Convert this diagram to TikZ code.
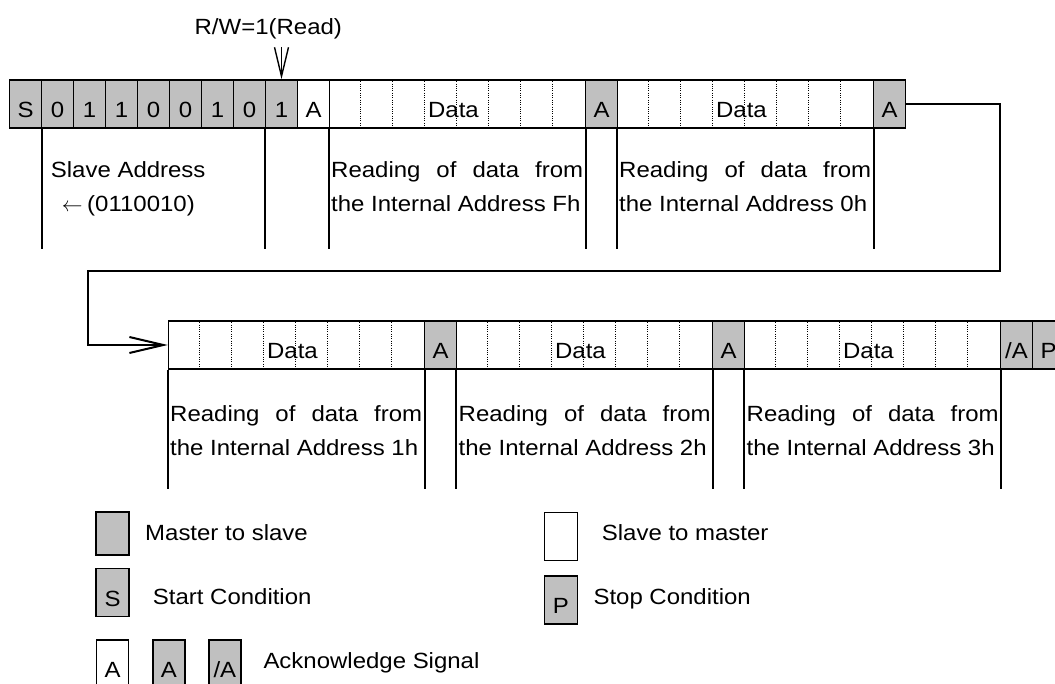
\documentclass[tikz,border=0pt]{standalone}
\usepackage{graphicx}
\usepackage{fontspec}
\setmainfont{Liberation Sans}[FakeStretch=1.09]
\usetikzlibrary{arrows.meta}
\definecolor{cellgray}{RGB}{192,192,192}
\begin{document}
\begin{tikzpicture}[x=1pt,y=-1pt,
  every node/.style={font=\fontsize{22}{26}\selectfont, inner sep=0pt},
  cell/.style={draw=black, line width=1.5pt, minimum height=48pt, minimum width=32pt, text height=27pt, text depth=0pt, anchor=center},
  gcell/.style={cell, fill=cellgray},
  wcell/.style={cell, fill=white},
  datacell/.style={wcell, minimum width=256pt},
  dotline/.style={line width=1.3pt, dash pattern=on 1pt off 1.3pt, shorten <=2pt, shorten >=2pt},
  vline/.style={line width=1.6pt},
  txt/.style={anchor=base west},
  conn/.style={line width=2pt, -{Straight Barb[length=34pt,width=16pt,line width=2pt]}},
  rwarrow/.style={line width=1.4pt, -{Straight Barb[length=29pt,width=14pt,line width=1.4pt]}},
]
\path[use as bounding box, clip] (0,0) rectangle (1055,684);

% ---- row 1 ----
\node[gcell] (S) at (25.5,104) {S};
\foreach \b [count=\i] in {0,1,1,0,0,1,0,1} {
  \node[gcell] (b\i) at (25.5+32*\i,104) {\b};
}
\node[wcell] (A1) at (313.5,104) {A};
\node[datacell] (D1) at (457.5,104) {\hspace*{-8pt}Data};
\node[gcell] (A2) at (601.5,104) {A};
\node[datacell] (D2) at (745.5,104) {\hspace*{-8pt}Data};
\node[gcell] (A3) at (889.5,104) {A};

% ---- row 2 ----
\node[datacell] (D3) at (296.5,345) {\hspace*{-8pt}Data};
\node[gcell] (A4) at (440.5,345) {A};
\node[datacell] (D4) at (584.5,345) {\hspace*{-8pt}Data};
\node[gcell] (A5) at (728.5,345) {A};
\node[datacell] (D5) at (872.5,345) {\hspace*{-8pt}Data};
\node[gcell] (NA) at (1016.5,345) {/A};
\node[gcell] (P) at (1048.5,345) {P};

% dotted bit separators
\foreach \d in {D1,D2,D3,D4,D5} {
  \foreach \k in {1,...,7} {
    \draw[dotline] ([xshift=\k*32pt]\d.north west) -- ([xshift=\k*32pt]\d.south west);
  }
}

% R/W marker
\node[anchor=base] (rw) at (268.3,35) {R/W=1(Read)};
\coordinate (rws) at (281.5,47);
\draw[rwarrow] (rws) -- (b8.north);

% description lines row 1
\draw[vline] (S.south east) -- ++(0,120);
\draw[vline] (b8.south west) -- ++(0,120);
\draw[vline] (D1.south west) -- ++(0,120);
\draw[vline] (D1.south east) -- ++(0,120);
\draw[vline] (D2.south west) -- ++(0,120);
\draw[vline] (D2.south east) -- ++(0,120);
% description lines row 2
\foreach \d in {D3,D4,D5} {
  \draw[vline] (\d.south west) -- ++(0,119);
  \draw[vline] (\d.south east) -- ++(0,119);
}

% texts row 1
\node[txt] (t1) at (50.7,178) {Slave Address};
\node[txt] (t2) at (61.7,212) {\(\leftarrow\)\hspace{4.6pt}(0110010)};
\node[txt] (t3) at (331,178) {\makebox[252pt][s]{Reading of data from}};
\node[txt] (t4) at (331,212) {the Internal Address Fh};
\node[txt] (t5) at (619,178) {\makebox[252pt][s]{Reading of data from}};
\node[txt] (t6) at (619,212) {the Internal Address 0h};
% texts row 2
\node[txt] (t7) at (170,421) {\makebox[252pt][s]{Reading of data from}};
\node[txt] (t8) at (170,456) {the Internal Address 1h};
\node[txt] (t9) at (458.5,421) {\makebox[252pt][s]{Reading of data from}};
\node[txt] (t10) at (458.5,456) {the Internal Address 2h};
\node[txt] (t11) at (746.5,421) {\makebox[252pt][s]{Reading of data from}};
\node[txt] (t12) at (746.5,456) {the Internal Address 3h};

% connector between rows
\coordinate (c1) at (1000,104);
\coordinate (c2) at (1000,271.5);
\coordinate (c3) at (88,271.5);
\draw[conn] (A3.east) -- (c1) -- (c2) -- (c3) -- (c3 |- D3.west) -- (D3.west);

% ---- legend ----
\node[gcell, minimum width=33pt, minimum height=43pt] (lm) at (112.5,533.6) {};
\node[txt] (lmt) at (145,540) {Master to slave};
\node[gcell, minimum width=33pt] (ls) at (112.5,592.5) {S};
\node[txt] (lst) at (152.7,604) {Start Condition};
\node[wcell] (la1) at (112.5,664) {A};
\node[gcell] (la2) at (168.85,664) {A};
\node[gcell] (la3) at (224.85,664) {/A};
\node[txt] (lat) at (263.3,668) {Acknowledge Signal};
\node[wcell, minimum width=33pt] (lsm) at (560.8,536.5) {};
\node[txt] (lsmt) at (601.7,540) {Slave to master};
\node[gcell, minimum width=33pt] (lp) at (560.8,600) {P};
\node[txt] (lpt) at (593.3,604) {Stop Condition};
\end{tikzpicture}
\end{document}
